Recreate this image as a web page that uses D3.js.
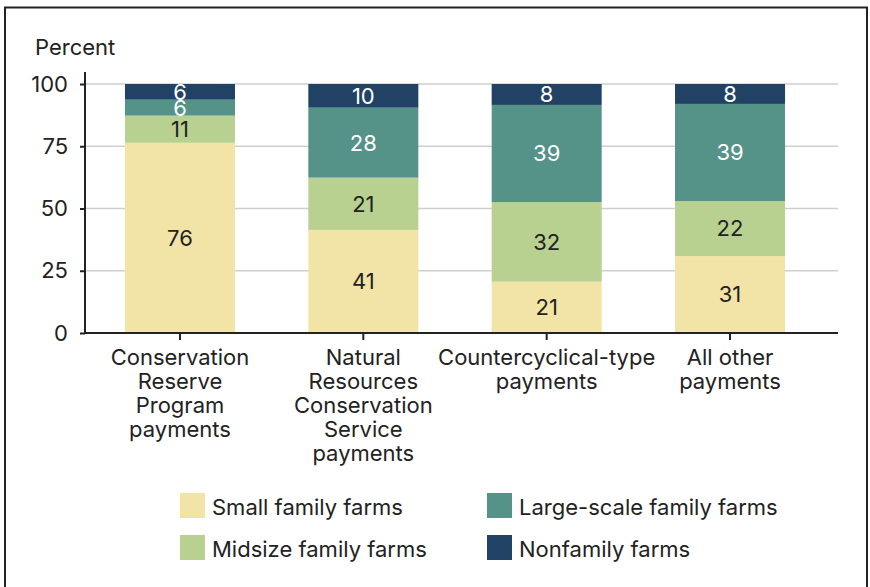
<!DOCTYPE html>
<html>
<head>
<meta charset="utf-8">
<script src="https://cdn.jsdelivr.net/npm/d3@7"></script>
<style>
  body { margin: 0; background: #fff; }
  svg { display: block; }
  svg text { font-family: Inter, "Liberation Sans", sans-serif; font-size: 22px; fill: #222; }
  svg text.light { fill: #fff; }
</style>
</head>
<body>
<svg width="870" height="587"></svg>
<script>
var categories = [
  ["Conservation", "Reserve", "Program", "payments"],
  ["Natural", "Resources", "Conservation", "Service", "payments"],
  ["Countercyclical-type", "payments"],
  ["All other", "payments"]
];
var keys = ["Small family farms", "Midsize family farms", "Large-scale family farms", "Nonfamily farms"];
var small = [76.4, 41.4, 20.6, 30.9];
var midsize = [10.9, 21.0, 32.0, 22.1];
var large = [6.4, 28.1, 39.0, 39.0];
var nonfamily = [6.3, 9.5, 8.4, 8.0];
var yTicks = [0, 25, 50, 75, 100];
var colors = ["#f2e4a6", "#b8d190", "#559288", "#214264"];

var rows = categories.map(function(c, i) {
  return {id: i, "Small family farms": small[i], "Midsize family farms": midsize[i],
    "Large-scale family farms": large[i], "Nonfamily farms": nonfamily[i]};
});

var svg = d3.select("svg");

// frame
svg.append("rect")
    .attr("x", 5).attr("y", 7.5)
    .attr("width", 862).attr("height", 600)
    .attr("fill", "none")
    .attr("stroke", "#222")
    .attr("stroke-width", 2);

var x = d3.scaleBand()
    .domain(rows.map(function(d) { return d.id; }))
    .range([85, 825])
    .paddingInner(0.4)
    .paddingOuter(0.218);

var y = d3.scaleLinear().domain([0, 100]).range([333, 84]);
var z = d3.scaleOrdinal().domain(keys).range(colors);

// gridlines
svg.append("g")
  .selectAll("line")
  .data(yTicks.slice(1))
  .enter().append("line")
    .attr("x1", 85).attr("x2", 838)
    .attr("y1", function(d) { return y(d); })
    .attr("y2", function(d) { return y(d); })
    .attr("stroke", "#cfcfcf")
    .attr("stroke-width", 1.5);

var series = d3.stack().keys(keys)(rows);

var layer = svg.append("g")
  .selectAll("g")
  .data(series)
  .enter().append("g")
    .attr("fill", function(d) { return z(d.key); });

layer.selectAll("rect")
  .data(function(d) { return d; })
  .enter().append("rect")
    .attr("x", function(d) { return x(d.data.id); })
    .attr("y", function(d) { return y(d[1]); })
    .attr("width", x.bandwidth())
    .attr("height", function(d) { return y(d[0]) - y(d[1]); });

layer.selectAll("text")
  .data(function(d) { return d.map(function(v) { return {key: d.key, v: v}; }); })
  .enter().append("text")
    .attr("class", function(d) { return keys.indexOf(d.key) > 1 ? "light" : null; })
    .attr("x", function(d) { return x(d.v.data.id) + x.bandwidth() / 2; })
    .attr("y", function(d) { return y((d.v[0] + d.v[1]) / 2); })
    .attr("dy", "0.36em")
    .attr("text-anchor", "middle")
    .text(function(d) { return Math.round(d.v[1] - d.v[0]); });

// y axis
var yAxis = svg.append("g")
    .attr("transform", "translate(85,0)")
    .call(d3.axisLeft(y).tickValues(yTicks).tickSize(5).tickPadding(12));
yAxis.attr("font-family", null).attr("font-size", null);
yAxis.select(".domain").attr("d", "M0,72V333").attr("stroke", "#222").attr("stroke-width", 2);
yAxis.selectAll(".tick line").attr("stroke", "#222").attr("stroke-width", 2);

svg.append("text")
    .attr("x", 35).attr("y", 55)
    .text("Percent");

// x axis
var xAxis = svg.append("g")
    .attr("transform", "translate(0,333)")
    .call(d3.axisBottom(x).tickSize(7).tickFormat(""));
xAxis.attr("font-family", null).attr("font-size", null);
xAxis.select(".domain").attr("d", "M85,0H838").attr("stroke", "#222").attr("stroke-width", 2);
xAxis.selectAll(".tick line").attr("stroke", "#222").attr("stroke-width", 2);

xAxis.selectAll(".tick text").remove();
xAxis.selectAll(".tick")
  .append("text")
    .attr("text-anchor", "middle")
    .attr("y", 32)
    .each(function(d) {
      var t = d3.select(this);
      categories[d].forEach(function(line, i) {
        t.append("tspan").attr("x", 0).attr("dy", i === 0 ? 0 : 24).text(line);
      });
    });

// legend
var legend = svg.append("g")
  .selectAll("g")
  .data(keys)
  .enter().append("g")
    .attr("transform", function(d, i) {
      return "translate(" + (i < 2 ? 180 : 487) + "," + (493 + (i % 2) * 42) + ")";
    });

legend.append("rect")
    .attr("width", 25)
    .attr("height", 25)
    .attr("fill", z);

legend.append("text")
    .attr("x", 32)
    .attr("y", 22)
    .text(function(d) { return d; });
</script>
</body>
</html>
